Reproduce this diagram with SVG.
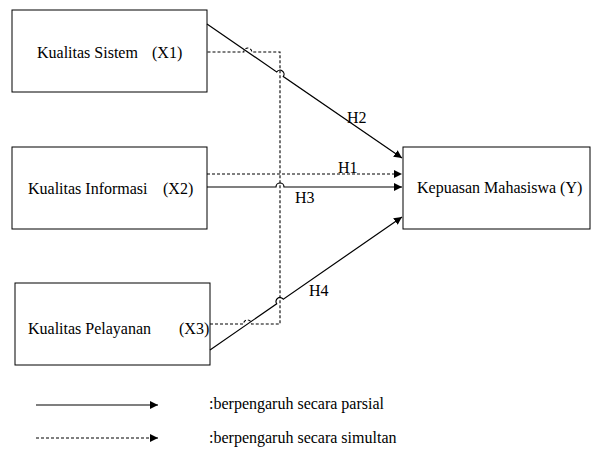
<svg xmlns="http://www.w3.org/2000/svg" width="591" height="455" viewBox="0 0 591 455">
<defs>
<style>
.box{fill:#fff;stroke:#000;stroke-width:1}
.t{font-family:"Liberation Serif","Times New Roman",serif;font-size:16px;fill:#000}
.s{fill:none;stroke:#000;stroke-width:1.2}
.d{fill:none;stroke:#000;stroke-width:1.1;stroke-dasharray:3,2}
</style>
<marker id="ah" viewBox="0 0 10 10" refX="10" refY="5" markerWidth="8" markerHeight="8" markerUnits="userSpaceOnUse" orient="auto">
<path d="M0,0 L10,5 L0,10 z" fill="#000"/>
</marker>
</defs>
<rect width="591" height="455" fill="#fff"/>
<g id="x1">
<rect class="box" x="12" y="10" width="195" height="82"/>
<text class="t" y="58"><tspan x="37">Kualitas Sistem</tspan><tspan x="152">(X1)</tspan></text>
</g>
<g id="x2">
<rect class="box" x="12" y="147" width="195" height="82"/>
<text class="t" y="194"><tspan x="28">Kualitas Informasi</tspan><tspan x="163">(X2)</tspan></text>
</g>
<g id="x3">
<rect class="box" x="15" y="283" width="195" height="82"/>
<text class="t" y="334"><tspan x="28">Kualitas Pelayanan</tspan><tspan x="179">(X3)</tspan></text>
</g>
<g id="y">
<rect class="box" x="403" y="147" width="187" height="82"/>
<text class="t" x="417" y="193">Kepuasan Mahasiswa (Y)</text>
</g>
<g id="connectors">
<path class="d" d="M210,324 H243.5 A4,4 0 0 1 251.5,324 H280 V52 H251.8 A4,4 0 0 0 243.8,52 H207"/>
<path class="s" d="M207,24 L276.7,71.9 A4,4 0 0 1 283.3,76.5 L402,158" marker-end="url(#ah)"/>
<path class="d" d="M207,174 H402" marker-end="url(#ah)"/>
<path class="s" d="M207,187 H276 A4,4 0 0 1 284,187 H402" marker-end="url(#ah)"/>
<path class="s" d="M210,350 L276.7,303.8 A4,4 0 0 1 283.3,299.2 L402,217" marker-end="url(#ah)"/>
<text class="t" x="347" y="123">H2</text>
<text class="t" x="338" y="173">H1</text>
<text class="t" x="295" y="203">H3</text>
<text class="t" x="309" y="296">H4</text>
</g>
<g id="legend">
<path class="s" d="M36,405 H158" marker-end="url(#ah)"/>
<path class="d" d="M36,438 H158" marker-end="url(#ah)"/>
<text class="t" x="209" y="409">:berpengaruh secara parsial</text>
<text class="t" x="209" y="443">:berpengaruh secara simultan</text>
</g>
</svg>
